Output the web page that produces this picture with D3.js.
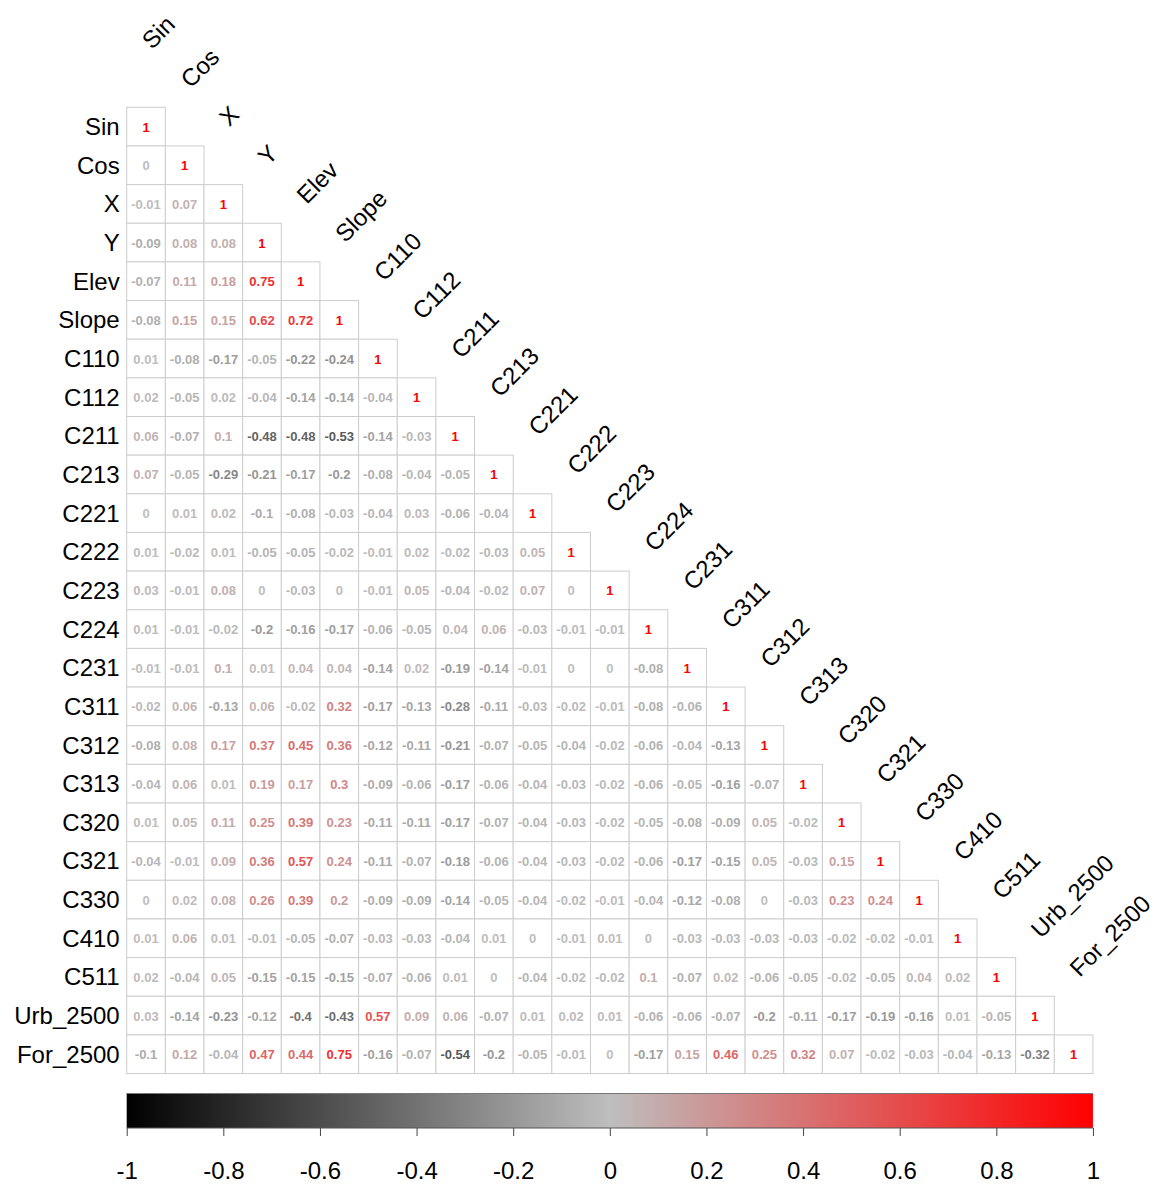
<!DOCTYPE html>
<html>
<head>
<meta charset="utf-8">
<script src="https://cdn.jsdelivr.net/npm/d3@7"></script>
<style>
  html, body { margin: 0; padding: 0; background: #fff; }
  svg { display: block; font-family: "Liberation Sans", Arial, sans-serif; }
</style>
</head>
<body>
<svg id="chart" width="1154" height="1185"></svg>
<script>
// Variable names (rows and columns of the correlation matrix)
const variables = ["Sin","Cos","X","Y","Elev","Slope","C110","C112","C211","C213",
  "C221","C222","C223","C224","C231","C311","C312","C313","C320","C321",
  "C330","C410","C511","Urb_2500","For_2500"];

// Lower-triangle correlations, one array per row (row i has i+1 values)
const rowSin    = [1];
const rowCos    = [0, 1];
const rowX      = [-0.01, 0.07, 1];
const rowY      = [-0.09, 0.08, 0.08, 1];
const rowElev   = [-0.07, 0.11, 0.18, 0.75, 1];
const rowSlope  = [-0.08, 0.15, 0.15, 0.62, 0.72, 1];
const rowC110   = [0.01, -0.08, -0.17, -0.05, -0.22, -0.24, 1];
const rowC112   = [0.02, -0.05, 0.02, -0.04, -0.14, -0.14, -0.04, 1];
const rowC211   = [0.06, -0.07, 0.1, -0.48, -0.48, -0.53, -0.14, -0.03, 1];
const rowC213   = [0.07, -0.05, -0.29, -0.21, -0.17, -0.2, -0.08, -0.04, -0.05, 1];
const rowC221   = [0, 0.01, 0.02, -0.1, -0.08, -0.03, -0.04, 0.03, -0.06, -0.04, 1];
const rowC222   = [0.01, -0.02, 0.01, -0.05, -0.05, -0.02, -0.01, 0.02, -0.02, -0.03, 0.05, 1];
const rowC223   = [0.03, -0.01, 0.08, 0, -0.03, 0, -0.01, 0.05, -0.04, -0.02, 0.07, 0, 1];
const rowC224   = [0.01, -0.01, -0.02, -0.2, -0.16, -0.17, -0.06, -0.05, 0.04, 0.06, -0.03, -0.01, -0.01, 1];
const rowC231   = [-0.01, -0.01, 0.1, 0.01, 0.04, 0.04, -0.14, 0.02, -0.19, -0.14, -0.01, 0, 0, -0.08, 1];
const rowC311   = [-0.02, 0.06, -0.13, 0.06, -0.02, 0.32, -0.17, -0.13, -0.28, -0.11, -0.03, -0.02, -0.01, -0.08, -0.06, 1];
const rowC312   = [-0.08, 0.08, 0.17, 0.37, 0.45, 0.36, -0.12, -0.11, -0.21, -0.07, -0.05, -0.04, -0.02, -0.06, -0.04, -0.13, 1];
const rowC313   = [-0.04, 0.06, 0.01, 0.19, 0.17, 0.3, -0.09, -0.06, -0.17, -0.06, -0.04, -0.03, -0.02, -0.06, -0.05, -0.16, -0.07, 1];
const rowC320   = [0.01, 0.05, 0.11, 0.25, 0.39, 0.23, -0.11, -0.11, -0.17, -0.07, -0.04, -0.03, -0.02, -0.05, -0.08, -0.09, 0.05, -0.02, 1];
const rowC321   = [-0.04, -0.01, 0.09, 0.36, 0.57, 0.24, -0.11, -0.07, -0.18, -0.06, -0.04, -0.03, -0.02, -0.06, -0.17, -0.15, 0.05, -0.03, 0.15, 1];
const rowC330   = [0, 0.02, 0.08, 0.26, 0.39, 0.2, -0.09, -0.09, -0.14, -0.05, -0.04, -0.02, -0.01, -0.04, -0.12, -0.08, 0, -0.03, 0.23, 0.24, 1];
const rowC410   = [0.01, 0.06, 0.01, -0.01, -0.05, -0.07, -0.03, -0.03, -0.04, 0.01, 0, -0.01, 0.01, 0, -0.03, -0.03, -0.03, -0.03, -0.02, -0.02, -0.01, 1];
const rowC511   = [0.02, -0.04, 0.05, -0.15, -0.15, -0.15, -0.07, -0.06, 0.01, 0, -0.04, -0.02, -0.02, 0.1, -0.07, 0.02, -0.06, -0.05, -0.02, -0.05, 0.04, 0.02, 1];
const rowUrb    = [0.03, -0.14, -0.23, -0.12, -0.4, -0.43, 0.57, 0.09, 0.06, -0.07, 0.01, 0.02, 0.01, -0.06, -0.06, -0.07, -0.2, -0.11, -0.17, -0.19, -0.16, 0.01, -0.05, 1];
const rowFor    = [-0.1, 0.12, -0.04, 0.47, 0.44, 0.75, -0.16, -0.07, -0.54, -0.2, -0.05, -0.01, 0, -0.17, 0.15, 0.46, 0.25, 0.32, 0.07, -0.02, -0.03, -0.04, -0.13, -0.32, 1];

const rows = [rowSin,rowCos,rowX,rowY,rowElev,rowSlope,rowC110,rowC112,rowC211,rowC213,
  rowC221,rowC222,rowC223,rowC224,rowC231,rowC311,rowC312,rowC313,rowC320,rowC321,
  rowC330,rowC410,rowC511,rowUrb,rowFor];

// Colour legend ticks
const legendTicks = [-1, -0.8, -0.6, -0.4, -0.2, 0, 0.2, 0.4, 0.6, 0.8, 1];
const legendTickLabels = ["-1","-0.8","-0.6","-0.4","-0.2","0","0.2","0.4","0.6","0.8","1"];

// Build cell table
const cells = [];
rows.forEach((r, i) => r.forEach((v, j) => cells.push({ row: variables[i], col: variables[j], i, j, v })));

const svg = d3.select("#chart");
const n = variables.length;
const gridLeft = 126.7, gridTop = 107.3, cellSize = 38.65;
const gridSize = n * cellSize;

const x = d3.scaleBand().domain(variables).range([gridLeft, gridLeft + gridSize]).padding(0);
const y = d3.scaleBand().domain(variables).range([gridTop, gridTop + gridSize]).padding(0);

// black -> grey -> red diverging palette
const color = d3.scaleLinear().domain([-1, 0, 1]).range(["#000000", "#BEBEBE", "#FF0000"])
  .interpolate(d3.interpolateRgb);

// cell frames
svg.append("g").selectAll("rect").data(cells).join("rect")
  .attr("x", d => x(d.col)).attr("y", d => y(d.row))
  .attr("width", x.bandwidth()).attr("height", y.bandwidth())
  .attr("fill", "#fff").attr("stroke", "#CDCDCD").attr("stroke-width", 1);

// correlation values
svg.append("g").selectAll("text").data(cells).join("text")
  .attr("x", d => x(d.col) + x.bandwidth() / 2)
  .attr("y", d => y(d.row) + y.bandwidth() / 2 + 5)
  .attr("text-anchor", "middle")
  .attr("font-size", 13).attr("font-weight", "bold")
  .attr("fill", d => color(d.v))
  .text(d => String(d.v));

// row labels
svg.append("g").selectAll("text").data(variables).join("text")
  .attr("x", gridLeft - 7)
  .attr("y", d => y(d) + y.bandwidth() / 2 + 8.5)
  .attr("text-anchor", "end")
  .attr("font-size", 24)
  .attr("fill", "#000")
  .text(d => d);

// column labels along the diagonal, rotated 45 degrees
svg.append("g").selectAll("text").data(variables).join("text")
  .attr("transform", d => `translate(${x(d) + x.bandwidth() / 2 + 6},${y(d) - 57}) rotate(-45)`)
  .attr("text-anchor", "start")
  .attr("font-size", 24)
  .attr("fill", "#000")
  .text(d => d);

// colour legend
const legY = 1093, legH = 35;
const lx = d3.scaleLinear().domain([-1, 1]).range([gridLeft, gridLeft + gridSize]);
const defs = svg.append("defs");
const grad = defs.append("linearGradient").attr("id", "corrGrad")
  .attr("x1", "0%").attr("x2", "100%").attr("y1", "0%").attr("y2", "0%");
d3.range(0, 1.0001, 0.05).forEach(t => {
  grad.append("stop").attr("offset", (t * 100) + "%").attr("stop-color", color(-1 + 2 * t));
});
svg.append("rect")
  .attr("x", lx(-1)).attr("y", legY)
  .attr("width", lx(1) - lx(-1)).attr("height", legH)
  .attr("fill", "url(#corrGrad)");
svg.append("line")
  .attr("x1", lx(-1)).attr("x2", lx(1)).attr("y1", legY + 0.5).attr("y2", legY + 0.5)
  .attr("stroke", "#777").attr("stroke-width", 1);
svg.append("line")
  .attr("x1", lx(-1)).attr("x2", lx(1)).attr("y1", legY + legH).attr("y2", legY + legH)
  .attr("stroke", "#555").attr("stroke-width", 1);

const axis = d3.axisBottom(lx).tickValues(legendTicks).tickSize(8)
  .tickFormat((d, i) => legendTickLabels[i]);
const ag = svg.append("g").attr("transform", `translate(0,${legY + legH})`).call(axis);
ag.select(".domain").remove();
ag.selectAll(".tick line").attr("stroke", "#444");
ag.selectAll(".tick text")
  .attr("font-size", 24).attr("font-family", "'Liberation Sans', Arial, sans-serif")
  .attr("fill", "#000").attr("dy", 0).attr("y", 51);
</script>
</body>
</html>
